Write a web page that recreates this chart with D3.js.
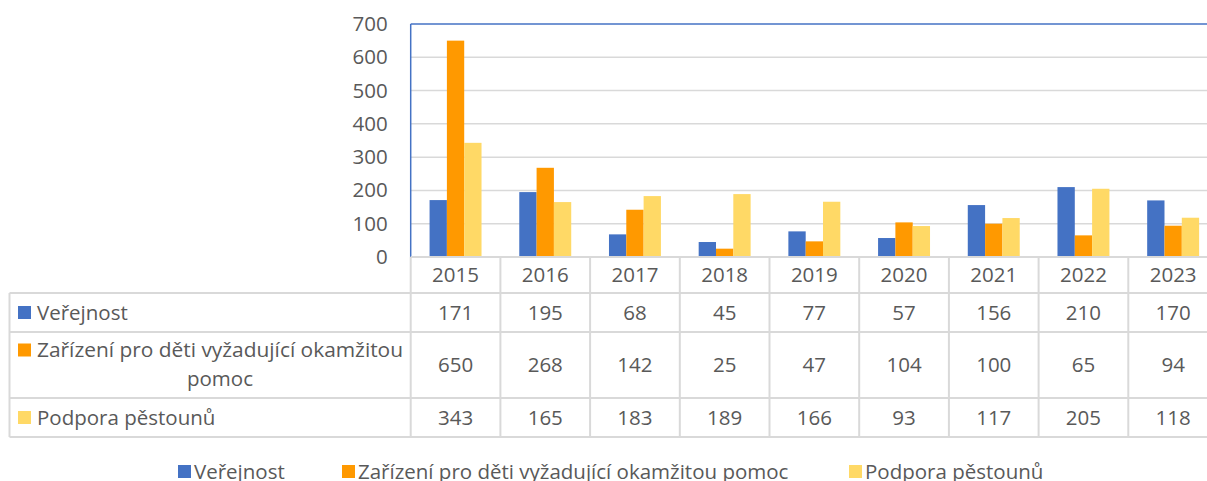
<!DOCTYPE html>
<html>
<head>
<meta charset="utf-8">
<script src="https://cdn.jsdelivr.net/npm/d3@7"></script>
<style>
  body { margin: 0; background: #fff; }
  svg { display: block; font-family: "Open Sans", sans-serif; }
</style>
</head>
<body>
<svg width="1207" height="481"></svg>
<script>
var years = ["2015", "2016", "2017", "2018", "2019", "2020", "2021", "2022", "2023"];
var seriesNames = ["Veřejnost", "Zařízení pro děti vyžadující okamžitou pomoc", "Podpora pěstounů"];
var verejnost = [171, 195, 68, 45, 77, 57, 156, 210, 170];
var zarizeni = [650, 268, 142, 25, 47, 104, 100, 65, 94];
var podpora = [343, 165, 183, 189, 166, 93, 117, 205, 118];
var yTicks = [0, 100, 200, 300, 400, 500, 600, 700];
var colors = ["#4472c4", "#ff9900", "#ffd966"];

var values = [verejnost, zarizeni, podpora];

var svg = d3.select("svg"),
    width = +svg.attr("width"),
    height = +svg.attr("height");

var plotLeft = 410.7, plotTop = 24, zeroY = 257,
    colW = 89.7,
    plotRight = plotLeft + colW * years.length;

var fs = "20.5px";

var x = d3.scaleBand().domain(years).range([plotLeft, plotRight]).padding(0);
var x1 = d3.scaleBand().domain([0, 1, 2]).range([0, x.bandwidth()]).paddingInner(0).paddingOuter(1.09);
var y = d3.scaleLinear().domain([0, 700]).range([zeroY, plotTop]);

var grid = "#d9d9d9", textCol = "#595959";

// gridlines
svg.append("g")
  .selectAll("line")
  .data(yTicks.filter(function(d) { return d > 0 && d < 700; }))
  .enter().append("line")
    .attr("x1", plotLeft).attr("x2", width)
    .attr("y1", function(d) { return y(d); })
    .attr("y2", function(d) { return y(d); })
    .attr("stroke", grid).attr("stroke-width", 1.5);

// y axis labels
var yAxis = d3.axisLeft(y).tickValues(yTicks).tickSize(0).tickPadding(23);
var yg = svg.append("g").attr("transform", "translate(" + plotLeft + ",0)").call(yAxis);
yg.select(".domain").remove();
yg.selectAll("text")
  .attr("fill", textCol)
  .style("font-size", fs)
  .style("font-family", "'Open Sans', sans-serif");

// bars
years.forEach(function(yr, i) {
  values.forEach(function(s, k) {
    svg.append("rect")
      .attr("x", x(yr) + x1(k))
      .attr("width", x1.bandwidth())
      .attr("y", y(s[i]))
      .attr("height", zeroY - y(s[i]))
      .attr("fill", colors[k]);
  });
});

// plot frame: blue top and left
svg.append("line").attr("x1", plotLeft).attr("x2", width).attr("y1", plotTop).attr("y2", plotTop)
  .attr("stroke", "#4472c4").attr("stroke-width", 1.5);
svg.append("line").attr("x1", plotLeft).attr("x2", plotLeft).attr("y1", plotTop).attr("y2", zeroY)
  .attr("stroke", "#4472c4").attr("stroke-width", 1.5);

// data table
var rowTops = [zeroY, 293, 332, 398, 437];
var tableLeft = 9.5;
var t = svg.append("g");

t.append("line").attr("x1", plotLeft).attr("x2", width).attr("y1", zeroY).attr("y2", zeroY)
  .attr("stroke", grid).attr("stroke-width", 2);
rowTops.slice(1).forEach(function(ry) {
  t.append("line").attr("x1", tableLeft).attr("x2", width).attr("y1", ry).attr("y2", ry)
    .attr("stroke", grid).attr("stroke-width", 2);
});
d3.range(years.length + 1).forEach(function(i) {
  var vx = plotLeft + i * colW;
  t.append("line").attr("x1", vx).attr("x2", vx).attr("y1", zeroY).attr("y2", rowTops[4])
    .attr("stroke", grid).attr("stroke-width", 2);
});
t.append("line").attr("x1", tableLeft).attr("x2", tableLeft).attr("y1", rowTops[1]).attr("y2", rowTops[4])
  .attr("stroke", grid).attr("stroke-width", 2);

// year header
t.selectAll("text.year")
  .data(years)
  .enter().append("text")
    .attr("class", "year")
    .attr("x", function(d) { return x(d) + x.bandwidth() / 2; })
    .attr("y", (rowTops[0] + rowTops[1]) / 2)
    .attr("dy", "0.35em")
    .attr("text-anchor", "middle")
    .attr("fill", textCol)
    .style("font-size", fs)
    .text(function(d) { return d; });

// rows
values.forEach(function(s, k) {
  var cy = (rowTops[k + 1] + rowTops[k + 2]) / 2;
  t.selectAll("text.v" + k)
    .data(s)
    .enter().append("text")
      .attr("x", function(d, i) { return x(years[i]) + x.bandwidth() / 2; })
      .attr("y", cy)
      .attr("dy", "0.35em")
      .attr("text-anchor", "middle")
      .attr("fill", textCol)
      .style("font-size", fs)
      .text(function(d) { return d; });

  t.append("rect")
    .attr("x", 18).attr("width", 13)
    .attr("y", (k == 1 ? 350 : cy) - 6.5).attr("height", 13)
    .attr("fill", colors[k]);

  if (k == 1) {
    t.append("text").attr("x", 37).attr("y", 350).attr("dy", "0.35em")
      .attr("fill", textCol).style("font-size", fs)
      .attr("textLength", 366).attr("lengthAdjust", "spacingAndGlyphs")
      .text("Zařízení pro děti vyžadující okamžitou");
    t.append("text").attr("x", 220).attr("y", 379).attr("dy", "0.35em")
      .attr("text-anchor", "middle")
      .attr("fill", textCol).style("font-size", fs)
      .text("pomoc");
  } else {
    t.append("text").attr("x", 37).attr("y", cy).attr("dy", "0.35em")
      .attr("fill", textCol).style("font-size", fs)
      .text(seriesNames[k]);
  }
});

// legend
var legendX = [178, 342, 849];
var lg = svg.append("g");
seriesNames.forEach(function(n, k) {
  lg.append("rect").attr("x", legendX[k]).attr("y", 465).attr("width", 13).attr("height", 13)
    .attr("fill", colors[k]);
  lg.append("text").attr("x", legendX[k] + 16).attr("y", 472).attr("dy", "0.35em")
    .attr("fill", textCol).style("font-size", fs)
    .text(n);
});
</script>
</body>
</html>
